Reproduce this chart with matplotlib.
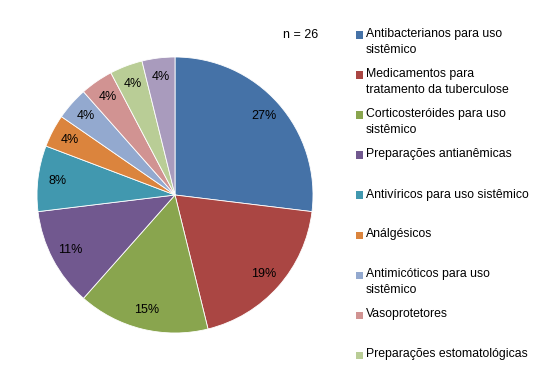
import matplotlib
matplotlib.use("Agg")
import matplotlib.pyplot as plt
from matplotlib.patches import Rectangle
import numpy as np

categories = [
    "Antibacterianos para uso\nsistêmico",
    "Medicamentos para\ntratamento da tuberculose",
    "Corticosteróides para uso\nsistêmico",
    "Preparações antianêmicas",
    "Antivíricos para uso sistêmico",
    "Análgésicos",
    "Antimicóticos para uso\nsistêmico",
    "Vasoprotetores",
    "Preparações estomatológicas",
    "",
]
counts = [7, 5, 4, 3, 2, 1, 1, 1, 1, 1]
pct_labels = ["27%", "19%", "15%", "11%", "8%", "4%", "4%", "4%", "4%", "4%"]
colors = ["#4572A7", "#AA4643", "#89A54E", "#71588F", "#4198AF",
          "#DB843D", "#93A9CF", "#D19392", "#B9CD96", "#A99BBD"]
n_text = "n = 26"

W, H = 541, 390
fig = plt.figure(figsize=(W / 100, H / 100), dpi=100)
plt.rcParams['font.family'] = ['Liberation Sans', 'DejaVu Sans']

cx, cy, r = 175, 195, 138
ax = fig.add_axes([(cx - r) / W, 1 - (cy + r) / H, 2 * r / W, 2 * r / H])
wedges, _ = ax.pie(counts, colors=colors, startangle=90, counterclock=False,
                   wedgeprops=dict(edgecolor="white", linewidth=0.6))
ax.set_xlim(-1, 1)
ax.set_ylim(-1, 1)
ax.set_aspect("auto")
total = sum(counts)
ang = 90.0
for c, lab in zip(counts, pct_labels):
    span = 360.0 * c / total
    mid = np.deg2rad(ang - span / 2)
    d = 0.86
    ax.text(d * np.cos(mid), d * np.sin(mid), lab, ha="center", va="center",
            fontsize=9, color="#000000")
    ang -= span

fig.text(301 / W, 1 - 35 / H, n_text, ha="center", va="center", fontsize=9)

# legend
y0 = 35
step = 40
for i, (lab, col) in enumerate(zip(categories[:9], colors[:9])):
    y = y0 + i * step
    fig.patches.append(Rectangle((356 / W, 1 - (y + 3.5) / H), 7 / W, 7 / H,
                                 transform=fig.transFigure, facecolor=col,
                                 edgecolor="none"))
    fig.text(366 / W, 1 - (y - 6.5) / H, lab, ha="left", va="top",
             fontsize=8.8, linespacing=1.4)

fig.savefig("out.png", dpi=100)
